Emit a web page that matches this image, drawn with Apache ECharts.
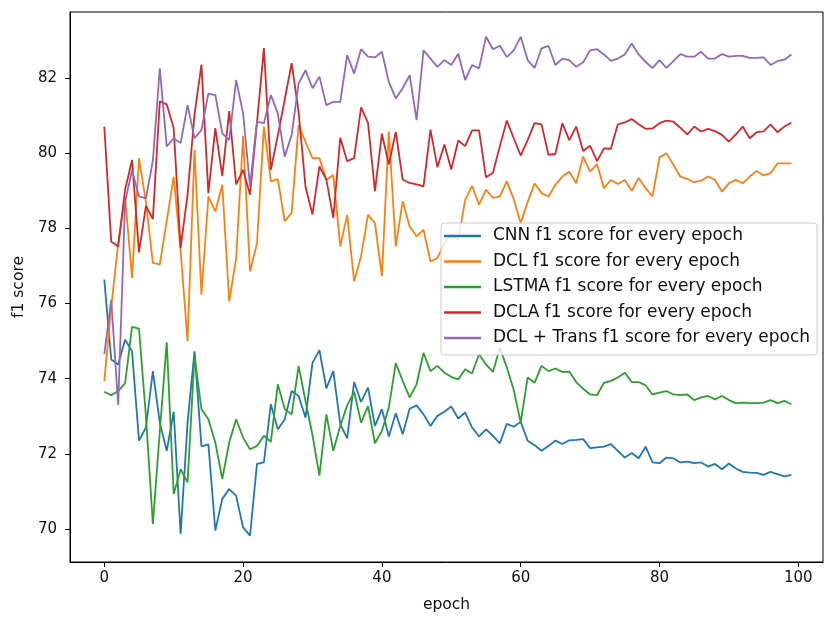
<!DOCTYPE html>
<html>
<head>
<meta charset="utf-8">
<title>f1 score</title>
<script src="https://cdn.jsdelivr.net/npm/echarts@6/dist/echarts.min.js"></script>
<style>
	html,body{margin:0;padding:0;background:#fff;}
	#main{width:824px;height:618px;}
</style>
</head>
<body>
<div id="main"></div>
<script>
var xTicks = [0,20,40,60,80,100];
var yTicks = [70,72,74,76,78,80,82];

var seriesNames = [
	"CNN f1 score for every epoch",
	"DCL f1 score for every epoch",
	"LSTMA f1 score for every epoch",
	"DCLA f1 score for every epoch",
	"DCL + Trans f1 score for every epoch"
];
var seriesColors = ["#1f77b4","#ff7f0e","#2ca02c","#d62728","#9467bd"];

//CNN
var cnn = [76.64,74.51,74.38,75.04,74.73,72.35,72.7,74.2,72.83,72.08,
	73.12,69.87,72.83,74.73,72.2,72.25,69.96,70.8,71.06,70.88,
	70.04,69.82,71.73,71.77,73.32,72.65,72.92,73.67,73.54,72.96,
	74.42,74.76,73.74,74.2,72.79,72.41,73.91,73.38,73.76,72.74,
	73.19,72.46,73.08,72.52,73.2,73.29,73.05,72.74,73.01,73.12,
	73.26,72.94,73.1,72.7,72.46,72.65,72.48,72.28,72.8,72.72,
	72.85,72.35,72.23,72.08,72.21,72.35,72.26,72.36,72.37,72.39,
	72.15,72.17,72.19,72.26,72.08,71.9,72.02,71.88,72.19,71.77,
	71.75,71.9,71.88,71.77,71.79,71.75,71.77,71.66,71.73,71.59,
	71.74,71.61,71.52,71.5,71.49,71.44,71.52,71.46,71.4,71.44];
//DCL
var dcl = [73.94,75.9,77.6,78.85,76.68,79.87,78.7,77.08,77.04,78.2,
	79.38,77.4,75.0,80.09,76.24,78.85,78.45,79.16,76.06,77.2,
	80.46,76.86,77.6,80.71,79.25,79.31,78.19,78.42,80.75,80.3,
	79.87,79.87,79.29,79.42,77.52,78.36,76.59,77.26,78.36,78.14,
	76.73,80.58,77.52,78.72,78.05,77.79,77.96,77.12,77.21,77.61,
	77.83,77.7,78.76,79.13,78.63,79.03,78.81,78.85,79.25,78.78,
	78.14,78.7,79.2,78.94,78.85,79.16,79.38,79.51,79.2,79.91,
	79.51,79.71,79.07,79.29,79.18,79.29,79.0,79.34,79.07,78.85,
	79.89,80.0,79.69,79.38,79.32,79.23,79.27,79.38,79.29,78.98,
	79.2,79.29,79.2,79.38,79.53,79.41,79.47,79.73,79.73,79.73];
//LSTMA
var lstma = [73.65,73.56,73.67,73.88,75.38,75.33,73.0,70.13,72.6,74.97,
	70.93,71.59,71.24,74.6,73.19,72.92,72.3,71.33,72.3,72.92,
	72.43,72.12,72.21,72.48,72.32,73.85,73.19,73.05,74.34,73.4,
	72.5,71.42,73.05,72.08,72.74,73.29,73.65,72.83,73.27,72.28,
	72.61,73.23,74.41,73.94,73.5,73.85,74.69,74.2,74.34,74.16,
	74.05,73.98,74.25,74.14,74.65,74.38,74.18,74.82,74.3,73.7,
	72.83,74.03,73.89,74.34,74.2,74.27,74.18,74.19,73.91,73.73,
	73.58,73.56,73.89,73.94,74.03,74.16,73.91,73.91,73.82,73.58,
	73.63,73.67,73.58,73.56,73.58,73.43,73.5,73.54,73.45,73.54,
	73.43,73.35,73.36,73.35,73.35,73.36,73.43,73.35,73.41,73.32];
//DCLA
var dcla = [80.71,77.65,77.52,79.03,79.82,77.36,78.6,78.25,81.38,81.3,
	80.67,77.48,78.9,81.03,82.36,78.94,80.67,79.39,81.12,79.17,
	79.56,78.9,80.81,82.8,79.56,80.47,81.43,82.4,81.1,79.1,
	78.37,79.65,79.3,78.28,80.41,79.79,79.87,81.22,80.81,78.99,
	80.52,79.7,80.57,79.3,79.21,79.17,79.12,80.63,79.63,80.23,
	79.57,80.34,80.19,80.61,80.61,79.36,79.48,80.19,80.87,80.4,
	79.94,80.35,80.8,80.77,79.96,79.98,80.8,80.35,80.71,80.06,
	80.2,79.79,80.13,80.12,80.77,80.82,80.91,80.77,80.65,80.66,
	80.8,80.87,80.84,80.68,80.5,80.71,80.58,80.65,80.59,80.49,
	80.31,80.5,80.71,80.4,80.56,80.58,80.77,80.56,80.71,80.81];
//DCL + Trans
var dclTrans = [74.65,76.1,73.3,78.7,79.55,78.85,78.8,79.8,82.26,80.18,
	80.4,80.27,81.28,80.4,80.62,81.59,81.55,80.53,80.35,81.95,
	81.06,79.12,80.84,80.8,81.55,81.06,79.91,80.49,81.86,82.21,
	81.73,82.04,81.28,81.37,81.37,82.61,82.12,82.77,82.57,82.55,
	82.7,81.9,81.46,81.73,82.08,80.88,82.74,82.52,82.3,82.48,
	82.35,82.65,81.95,82.35,82.26,83.1,82.77,82.86,82.56,82.74,
	83.1,82.48,82.27,82.79,82.86,82.35,82.52,82.48,82.3,82.42,
	82.74,82.77,82.63,82.46,82.52,82.63,82.92,82.63,82.43,82.27,
	82.48,82.27,82.45,82.64,82.57,82.57,82.7,82.52,82.52,82.64,
	82.57,82.59,82.59,82.54,82.54,82.55,82.35,82.45,82.49,82.63];

var font = "DejaVu Sans";

function toPoints(arr){
	var out = [];
	for (var i = 0; i < arr.length; i++) {
		out.push([i, arr[i]]);
	}
	return out;
}

function initChart(){
	var myChart = echarts.init(document.getElementById('main'), null, {renderer:'canvas'});
	var allData = [cnn, dcl, lstma, dcla, dclTrans];
	var series = [];
	for (var i = 0; i < allData.length; i++) {
		series.push({
			name: seriesNames[i],
			type: 'line',
			symbol: 'none',
			showSymbol: false,
			silent: true,
			color: seriesColors[i],
			lineStyle: {width: 1.8, color: seriesColors[i]},
			data: toPoints(allData[i])
		});
	}
	var option = {
		animation: false,
		grid: {
			left: 70, top: 12, right: 1, bottom: 55,
			show: true, borderColor: '#000', borderWidth: 1
		},
		legend: {
			orient: 'vertical',
			left: 441, top: 223,
			icon: 'rect',
			itemWidth: 37, itemHeight: 2.5,
			itemGap: 7.5,
			padding: [4, 7, 8, 3],
			backgroundColor: 'rgba(255,255,255,0.8)',
			borderColor: '#cccccc', borderWidth: 1, borderRadius: 3,
			textStyle: {fontFamily: font, fontSize: 17, color: '#111', lineHeight: 18, padding: [0,0,0,7]},
			data: seriesNames
		},
		xAxis: {
			type: 'value',
			min: -4.94, max: 103.56,
			name: 'epoch', nameLocation: 'middle', nameGap: 35,
			nameTextStyle: {fontFamily: font, fontSize: 15.5, color: '#111'},
			axisLine: {show: true, onZero: false, lineStyle: {color: '#000', width: 1}},
			axisTick: {show: true, inside: false, length: 5, lineStyle: {color: '#000'}, customValues: xTicks},
			axisLabel: {fontFamily: font, fontSize: 15, color: '#111', margin: 9, customValues: xTicks},
			splitLine: {show: false}
		},
		yAxis: {
			type: 'value',
			min: 69.12, max: 83.76,
			name: 'f1 score', nameLocation: 'middle', nameGap: 31, nameRotate: 90,
			nameTextStyle: {fontFamily: font, fontSize: 15.5, color: '#111'},
			axisLine: {show: true, onZero: false, lineStyle: {color: '#000', width: 1}},
			axisTick: {show: true, inside: false, length: 5, lineStyle: {color: '#000'}, customValues: yTicks},
			axisLabel: {fontFamily: font, fontSize: 15, color: '#111', margin: 13, customValues: yTicks},
			splitLine: {show: false}
		},
		series: series
	};
	myChart.setOption(option);
}

initChart();
</script>
</body>
</html>
